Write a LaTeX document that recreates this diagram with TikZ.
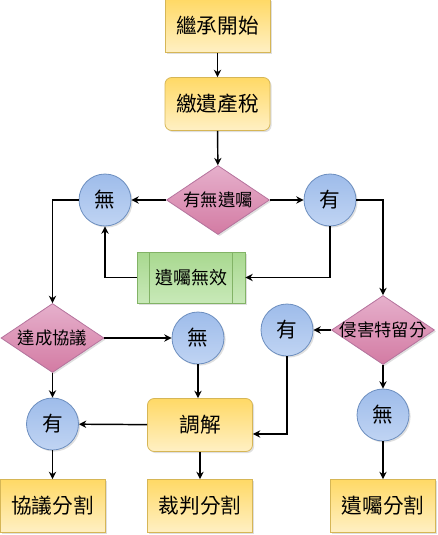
\documentclass[tikz,border=0pt]{standalone}
\usepackage{fontspec}
\newfontfamily\cjk{Noto Sans CJK TC}
\usepackage{xcolor}
\usetikzlibrary{shapes.geometric, arrows.meta, shadows}

\definecolor{ylwTop}{HTML}{FFD966}
\definecolor{ylwBot}{HTML}{FFF0C4}
\definecolor{ylwLine}{HTML}{D6B656}
\definecolor{bluTop}{HTML}{9EBCEA}
\definecolor{bluBot}{HTML}{C0D4F3}
\definecolor{bluLine}{HTML}{6C8EBF}
\definecolor{pnkTop}{HTML}{E6B0CC}
\definecolor{pnkBot}{HTML}{D37BA3}
\definecolor{pnkLine}{HTML}{B5739D}
\definecolor{grnTop}{HTML}{A8D88F}
\definecolor{grnBot}{HTML}{C8E9B8}
\definecolor{grnLine}{HTML}{82B366}

\begin{document}
\begin{tikzpicture}[
  x=0.75pt, y=-0.75pt,
  shade/.style={drop shadow={shadow xshift=1.2pt, shadow yshift=-1.2pt, opacity=0.25}},
  box/.style={rectangle, draw=ylwLine, line width=0.6pt, top color=ylwTop, bottom color=ylwBot, shade, minimum width=78.75pt, minimum height=39.75pt, font=\cjk\fontsize{15.5}{18}\selectfont},
  rbox/.style={box, rounded corners=5pt},
  ball/.style={circle, draw=bluLine, line width=0.6pt, top color=bluTop, bottom color=bluBot, shade, minimum size=39pt, inner sep=0pt, font=\cjk\fontsize{15.5}{18}\selectfont},
  dec/.style={diamond, draw=pnkLine, line width=0.6pt, top color=pnkTop, bottom color=pnkBot, shade, minimum width=77.25pt, minimum height=51.75pt, inner sep=0pt, font=\cjk\fontsize{13}{15}\selectfont},
  proc/.style={rectangle, draw=grnLine, line width=0.6pt, top color=grnTop, bottom color=grnBot, shade, minimum width=81pt, minimum height=38.25pt, font=\cjk\fontsize{13.5}{16}\selectfont,
    path picture={\draw[grnLine, line width=0.6pt] ([xshift=9.5pt]path picture bounding box.north west) -- ([xshift=9.5pt]path picture bounding box.south west)
      ([xshift=-9.5pt]path picture bounding box.north east) -- ([xshift=-9.5pt]path picture bounding box.south east);}},
  >={Stealth[length=5.5pt, width=5.5pt]},
  every path/.style={line width=1.1pt}
]
  \useasboundingbox (0,0) rectangle (437,535);

  \node[box]  (start)  at (217.5,26)  {繼承開始};
  \node[rbox] (tax)    at (217.5,104) {繳遺產稅};
  \node[dec]  (will)   at (218,200)   {\makebox[0pt]{有無遺囑}};
  \node[ball] (noA)    at (105,200)   {無};
  \node[ball] (yesA)   at (330,200)   {有};
  \node[proc] (void)   at (191,277.5) {遺囑無效};
  \node[dec]  (agree)  at (52.5,338)  {\makebox[0pt]{達成協議}};
  \node[ball] (noB)    at (198,338)   {無};
  \node[ball] (yesB)   at (287,330)   {有};
  \node[dec]  (forced) at (383,330)   {\makebox[0pt]{侵害特留分}};
  \node[ball] (yesC)   at (52.5,424)  {有};
  \node[rbox] (med)    at (200,425)   {調解};
  \node[ball] (noC)    at (383,415)   {無};
  \node[box]  (divA)   at (52.5,506)  {協議分割};
  \node[box]  (divB)   at (200,506)   {裁判分割};
  \node[box]  (divC)   at (383,506)   {遺囑分割};

  \draw[->] (start) -- (tax);
  \draw[->] (tax) -- (will);
  \draw[->] (will) -- (noA);
  \draw[->] (will) -- (yesA);
  \draw[->] (noA.west) -| (agree.north);
  \draw[->] (yesA.east) -| (forced.north);
  \draw[->] (yesA.south) |- (void.east);
  \draw[->] (void.west) -| (noA.south);
  \draw[->] (agree) -- (noB);
  \draw[->] (agree) -- (yesC);
  \draw[->] (noB.south) -- (noB.south |- med.north);
  \draw[->] (med) -- (yesC);
  \draw[->] (med) -- (divB);
  \draw[->] (yesC) -- (divA);
  \draw[->] (forced) -- (yesB);
  \draw[->] (yesB.south) |- ([yshift=-6.75pt]med.east);
  \draw[->] (forced) -- (noC);
  \draw[->] (noC) -- (divC);
\end{tikzpicture}
\end{document}
